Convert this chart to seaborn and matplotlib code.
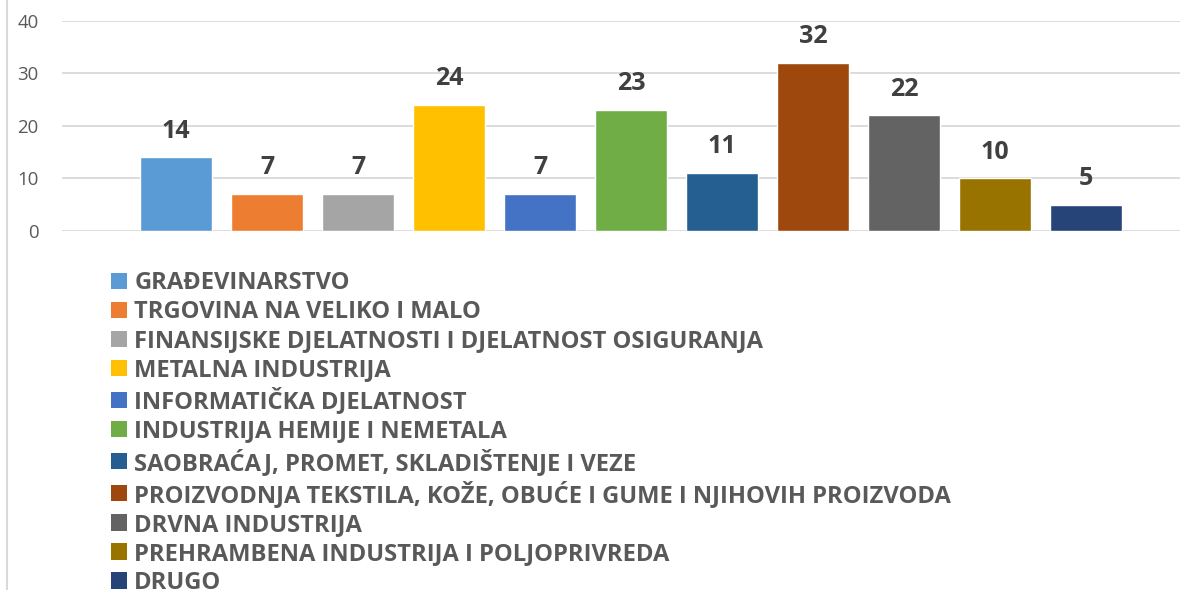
import numpy as np
import pandas as pd
import matplotlib
matplotlib.use('Agg')
import matplotlib.pyplot as plt
import seaborn as sns
from matplotlib.patches import Patch
from matplotlib.lines import Line2D

# podaci
kategorije = ['GRAĐEVINARSTVO', 'TRGOVINA NA VELIKO I MALO',
              'FINANSIJSKE DJELATNOSTI I DJELATNOST OSIGURANJA',
              'METALNA INDUSTRIJA', 'INFORMATIČKA DJELATNOST',
              'INDUSTRIJA HEMIJE I NEMETALA',
              'SAOBRAĆAJ, PROMET, SKLADIŠTENJE I VEZE',
              'PROIZVODNJA TEKSTILA, KOŽE, OBUĆE I GUME I NJIHOVIH PROIZVODA',
              'DRVNA INDUSTRIJA', 'PREHRAMBENA INDUSTRIJA I POLJOPRIVREDA', 'DRUGO']
vrijednosti = [14, 7, 7, 24, 7, 23, 11, 32, 22, 10, 5]
boje = ['#5B9BD5', '#ED7D31', '#A5A5A5', '#FFC000', '#4472C4', '#70AD47',
        '#255E91', '#9E480E', '#636363', '#997300', '#264478']
yticks = [0, 10, 20, 30, 40]

df = pd.DataFrame({'kategorija': kategorije, 'broj': vrijednosti})

sns.set_style('white')
plt.rcParams['font.family'] = ['Open Sans', 'DejaVu Sans']

fig = plt.figure(figsize=(11.8, 5.9), dpi=100)
W, H = 1180, 590
ax = fig.add_axes([62 / W, 1 - 231 / H, (1180 - 62) / W, (231 - 21) / H])

sns.barplot(data=df, x='kategorija', y='broj', hue='kategorija', palette=boje,
            width=0.79, legend=False, ax=ax, saturation=1)

# ose i mreza
ax.set_xlim((62 - 176) / 91, (1180 - 176) / 91)
ax.set_ylim(0, 40)
ax.set_yticks(yticks)
ax.set_yticklabels([str(t) for t in yticks], fontsize=13.4, color='#595959')
ax.tick_params(axis='y', length=0, pad=17)
ax.set_xticks([])
ax.set_xlabel('')
ax.set_ylabel('')
for s in ax.spines.values():
    s.set_visible(False)
ax.yaxis.grid(True, color='#D9D9D9', linewidth=1.3)
ax.set_axisbelow(True)

# oznake vrijednosti
for i, v in enumerate(vrijednosti):
    ax.annotate(str(v), (i, v), xytext=(0, 10), textcoords='offset points',
                ha='center', va='bottom', fontsize=18, fontweight='bold', color='#404040')

# legenda
rucke = [Patch(facecolor=c, edgecolor='none') for c in boje]
fig.legend(rucke, kategorije, loc='upper left', bbox_to_anchor=(111 / W, 1 - 271 / H),
           frameon=False, prop={'weight': 'bold', 'size': 17.1},
           labelcolor='#595959', handlelength=0.68, handleheight=0.68,
           handletextpad=0.3, labelspacing=0.215, borderpad=0, borderaxespad=0)

# okvir lijevo
fig.add_artist(Line2D([7 / W, 7 / W], [0, 1], color='#D9D9D9', linewidth=1.5,
                      transform=fig.transFigure))

fig.savefig('out.png', dpi=100)
